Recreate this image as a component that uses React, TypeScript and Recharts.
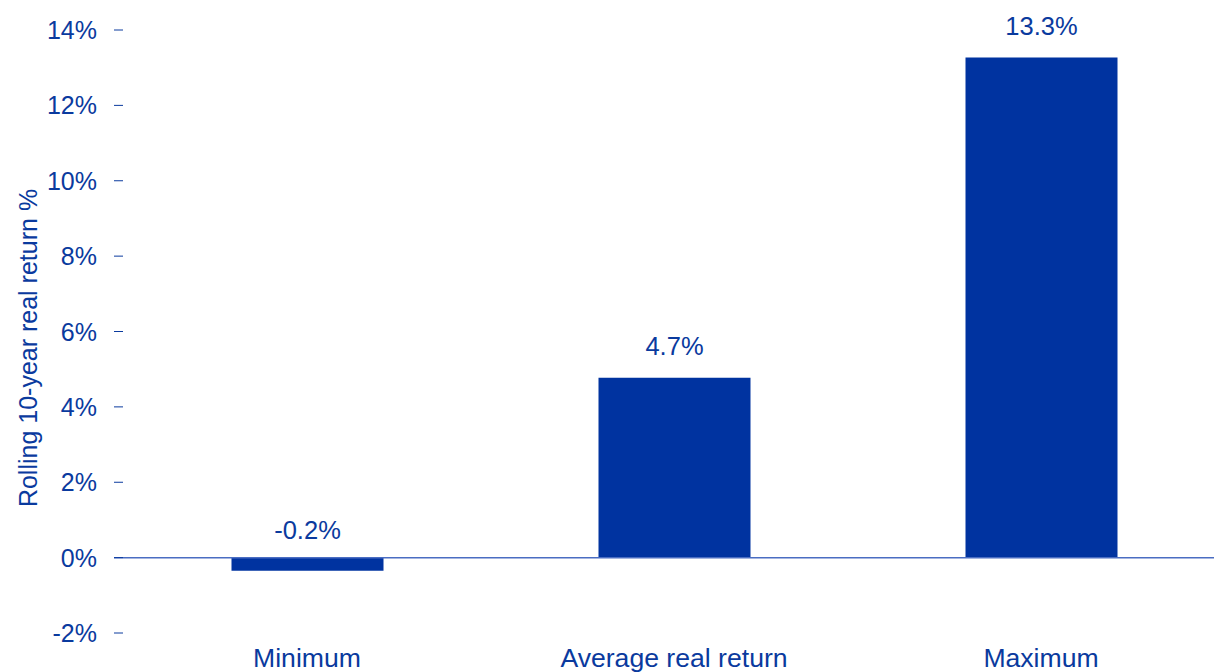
import React from 'react'
import { BarChart, Bar, XAxis, YAxis, ReferenceLine, LabelList } from 'recharts'

const categories = ['Minimum', 'Average real return', 'Maximum']
const realReturns = [-0.35, 4.77, 13.27]
const valueLabels = ['-0.2%', '4.7%', '13.3%']
const yTicks = [-2, 0, 2, 4, 6, 8, 10, 12, 14]

const BLUE = '#0033A0'
const TEXT = '#0A3A9E'
const FONT = '"Liberation Sans", Arial, sans-serif'
const PLOT_LEFT = 114
const PLOT_BOTTOM = 633

const data = categories.map((name, i) => ({ name, value: realReturns[i], label: valueLabels[i] }))

const YTick = (props: any) => {
  const { y, payload } = props
  return (
    <g>
      <text x={PLOT_LEFT - 17} y={y} dy="0.36em" textAnchor="end" fill={TEXT} fontSize={25} fontFamily={FONT}>
        {payload.value}%
      </text>
      <line x1={PLOT_LEFT} x2={PLOT_LEFT + 9} y1={y} y2={y} stroke={TEXT} strokeWidth={1} />
    </g>
  )
}

const XTick = (props: any) => {
  const { x, payload } = props
  return (
    <text x={x} y={PLOT_BOTTOM + 34} textAnchor="middle" fill={TEXT} fontSize={26.6} fontFamily={FONT}>
      {payload.value}
    </text>
  )
}

const ValueLabel = (props: any) => {
  const { x, y, width, height, value } = props
  const top = Math.min(y, y + height)
  const neg = String(value).startsWith('-')
  return (
    <text x={x + width / 2} y={top - (neg ? 28 : 32)} dy="0.36em" textAnchor="middle" fill={TEXT} fontSize={25.5} fontFamily={FONT}>
      {value}
    </text>
  )
}

export default function App() {
  return (
    <div style={{ position: 'absolute', left: 0, top: 0, width: 1214, height: 672, overflow: 'hidden', background: '#fff' }}>
      <BarChart width={1225} height={672} data={data} margin={{ top: 30, right: 0, bottom: 9, left: 0 }}>
        <XAxis
          dataKey="name"
          height={30}
          axisLine={false}
          tickLine={false}
          tick={<XTick />}
          padding={{ left: 9.5, right: 0.5 }}
        />
        <YAxis
          width={PLOT_LEFT}
          domain={[-2, 14]}
          ticks={yTicks}
          axisLine={false}
          tickLine={false}
          tick={<YTick />}
          label={{
            content: () => (
              <text
                x={28}
                y={348}
                transform="rotate(-90 28 348)"
                textAnchor="middle"
                dominantBaseline="central"
                fill={TEXT}
                fontSize={25}
                fontFamily={FONT}
              >
                Rolling 10-year real return %
              </text>
            ),
          }}
        />
        <Bar dataKey="value" fill={BLUE} barSize={152} isAnimationActive={false}>
          <LabelList dataKey="label" content={<ValueLabel />} />
        </Bar>
        <ReferenceLine y={0} stroke="#4A6DC2" strokeWidth={1.5} />
      </BarChart>
    </div>
  )
}
